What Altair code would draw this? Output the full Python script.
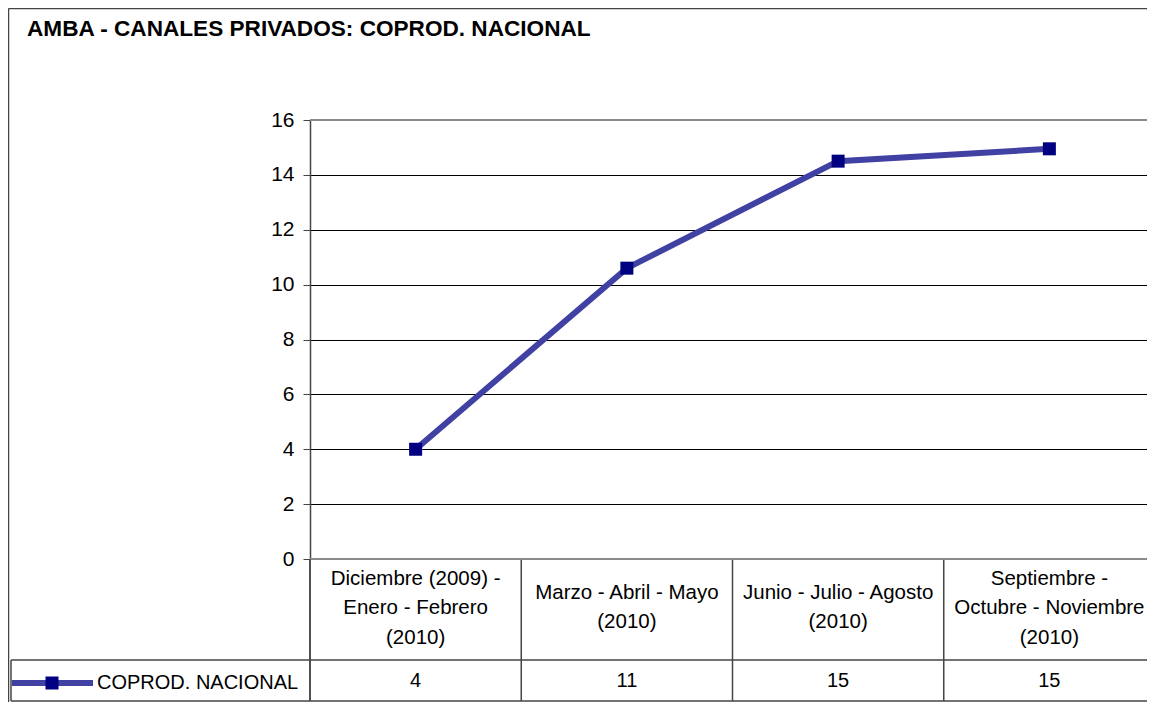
import altair as alt
import pandas as pd

# ---- data ----
categories = [
    "Diciembre (2009) -\nEnero - Febrero\n(2010)",
    "Marzo - Abril - Mayo\n(2010)",
    "Junio - Julio - Agosto\n(2010)",
    "Septiembre -\nOctubre - Noviembre\n(2010)",
]
values = [4.0, 10.6, 14.5, 14.95]
series_name = "COPROD. NACIONAL"
title_text = "AMBA - CANALES PRIVADOS: COPROD. NACIONAL"
y_ticks = [0, 2, 4, 6, 8, 10, 12, 14, 16]

df = pd.DataFrame({"periodo": categories, "valor": values})

FONT = "Liberation Sans"
W, H = 837, 439      # visible plot width (page is cut at the right edge)
XR = 845             # full category range, extending past the page edge
LINE_COLOR = "#4141a3"
MARK_COLOR = "#000080"

xscale = alt.Scale(type="band", paddingInner=0, paddingOuter=0, range=[0, XR])
xenc = alt.X("periodo:N", sort=categories, scale=xscale, axis=None)
yenc = alt.Y(
    "valor:Q",
    scale=alt.Scale(domain=[0, 16], nice=False),
    axis=alt.Axis(
        values=y_ticks,
        grid=True,
        gridColor="black",
        gridWidth=1,
        domainColor="#444444",
        domainWidth=1.5,
        tickColor="#444444",
        tickSize=7,
        labelPadding=9,
        labelFont=FONT,
        labelFontSize=21,
        labelColor="black",
        title=None,
    ),
)

base = alt.Chart(df)

line = base.mark_line(color=LINE_COLOR, strokeWidth=6).encode(x=xenc, y=yenc)
points = base.mark_square(size=169, color=MARK_COLOR, opacity=1).encode(x=xenc, y=yenc)

labelled = base.transform_calculate(nl="length(split(datum.periodo, '\\n'))")


def cat_text(n_lines, y_first):
    return labelled.transform_filter(alt.datum.nl == n_lines).mark_text(
        lineBreak="\n", lineHeight=29.5, baseline="middle", align="center",
        font=FONT, fontSize=20.5, color="black",
    ).encode(x=xenc, y=alt.value(y_first), text="periodo:N")


cat_text3 = cat_text(3, 458.5)
cat_text2 = cat_text(2, 472.5)

val_text = base.mark_text(
    baseline="middle", align="center", font=FONT, fontSize=20, color="black",
).encode(x=xenc, y=alt.value(561), text=alt.Text("valor:Q", format=".0f"))

band_lines = base.mark_rule(color="#444444", strokeWidth=1.5).encode(
    x=alt.X("periodo:N", sort=categories, scale=xscale, axis=None, bandPosition=0),
    y=alt.value(H),
    y2=alt.value(581),
)

first = base.transform_filter(alt.datum.periodo == categories[0])


def rule(x1, x2, y1, y2, color="#444444", width=1.5):
    return first.mark_rule(color=color, strokeWidth=width).encode(
        x=alt.value(x1), x2=alt.value(x2), y=alt.value(y1), y2=alt.value(y2)
    )


decor = [
    rule(0, XR, 0, 0, "#8a8a8a", 2),          # plot top border
    rule(0, XR, H, H, "#8a8a8a", 2),          # category axis baseline
    rule(0, 0, H, 581, "#444444", 1.5),       # axis extension into table
    rule(-299, XR, 540, 540, "#444444", 1.5),  # table middle line
    rule(-299, XR, 581, 581, "#444444", 1.5),  # table bottom line
    rule(-299, -299, 540, 581, "#444444", 1.5),  # table left line
    rule(-301.5, -301.5, -111.5, 600, "#444444", 1.5),  # outer frame left
    rule(-301.5, XR, -111.5, -111.5, "#444444", 1.5),   # outer frame top
]

legend_line = rule(-298, -217, 563, 563, LINE_COLOR, 6)
legend_mark = first.mark_square(size=169, color=MARK_COLOR, opacity=1).encode(
    x=alt.value(-258), y=alt.value(563)
)
legend_text = first.mark_text(
    text=series_name, align="left", baseline="middle", font=FONT, fontSize=20, color="black"
).encode(x=alt.value(-213), y=alt.value(563))

title = first.mark_text(
    text=title_text, align="left", baseline="alphabetic", font=FONT,
    fontSize=22.6, fontWeight="bold", color="black",
).encode(x=alt.value(-283), y=alt.value(-84))

chart = alt.layer(
    line, points, band_lines, cat_text3, cat_text2, val_text, *decor,
    legend_line, legend_mark, legend_text, title,
).properties(
    width=W,
    height=H,
    padding={"left": 302, "top": 112, "right": 0, "bottom": 143},
    autosize=alt.AutoSizeParams(type="none"),
    background="white",
).configure_view(stroke=None)

chart.save("out.html", embed_options={"renderer": "svg", "actions": False})
